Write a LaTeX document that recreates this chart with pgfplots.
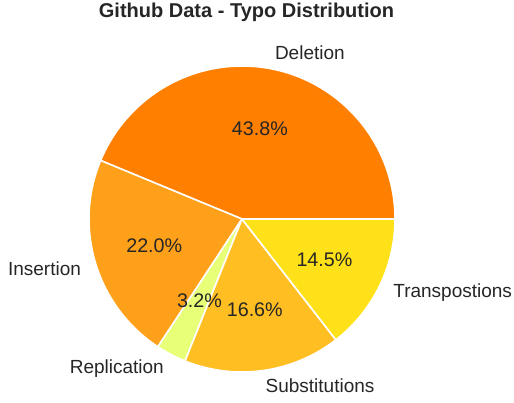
\documentclass[border=0pt]{standalone}
\usepackage{pgfplots}
\pgfplotsset{compat=1.18}
\usepackage{fontspec}
\setmainfont{Liberation Sans}
\usetikzlibrary{calc}
\definecolor{cDel}{HTML}{FF7F00}
\definecolor{cIns}{HTML}{FFA01A}
\definecolor{cRep}{HTML}{E8FF78}
\definecolor{cSub}{HTML}{FFBE22}
\definecolor{cTra}{HTML}{FFE11A}
\definecolor{txt}{HTML}{262626}
\begin{document}
\begin{tikzpicture}
\useasboundingbox (0,0) rectangle (514pt,402pt);
\begin{axis}[at={(0,0)},anchor=south west,width=514pt,height=402pt,scale only axis,xmin=0,xmax=514,ymin=0,ymax=402,hide axis,clip=false]
% percentages
\pgfmathsetmacro{\pDel}{43.8}
\pgfmathsetmacro{\pIns}{22.0}
\pgfmathsetmacro{\pRep}{3.2}
\pgfmathsetmacro{\pSub}{16.6}
\pgfmathsetmacro{\pTra}{14.5}
\pgfmathsetmacro{\f}{360/(\pDel+\pIns+\pRep+\pSub+\pTra)}
\pgfmathsetmacro{\aA}{\pDel*\f}
\pgfmathsetmacro{\aB}{\aA+\pIns*\f}
\pgfmathsetmacro{\aC}{\aB+\pRep*\f}
\pgfmathsetmacro{\aD}{\aC+\pSub*\f}
\pgfmathsetmacro{\mA}{\aA/2}
\pgfmathsetmacro{\mB}{(\aA+\aB)/2}
\pgfmathsetmacro{\mC}{(\aB+\aC)/2}
\pgfmathsetmacro{\mD}{(\aC+\aD)/2}
\pgfmathsetmacro{\mE}{(\aD+360)/2}
\coordinate (C) at (axis cs:242,183);
\def\R{153pt}
\tikzset{wedge/.style={draw=white,line width=1.6pt,line join=round}}
\filldraw[wedge,fill=cDel] (C) -- ++(0:\R) arc[start angle=0,end angle=\aA,radius=\R] -- cycle;
\filldraw[wedge,fill=cIns] (C) -- ++(\aA:\R) arc[start angle=\aA,end angle=\aB,radius=\R] -- cycle;
\filldraw[wedge,fill=cRep] (C) -- ++(\aB:\R) arc[start angle=\aB,end angle=\aC,radius=\R] -- cycle;
\filldraw[wedge,fill=cSub] (C) -- ++(\aC:\R) arc[start angle=\aC,end angle=\aD,radius=\R] -- cycle;
\filldraw[wedge,fill=cTra] (C) -- ++(\aD:\R) arc[start angle=\aD,end angle=360,radius=\R] -- cycle;
\tikzset{lab/.style={text=txt,font=\fontsize{19}{22}\selectfont,inner sep=0pt},
         pct/.style={text=txt,font=\fontsize{19.7}{22}\selectfont,inner sep=0pt}}
\node[pct] at ($(C)+(\mA:91.8pt)$) {43.8\%};
\node[pct] at ($(C)+(\mB:91.8pt)$) {22.0\%};
\node[pct] at ($(C)+(\mC:91.8pt)$) {3.2\%};
\node[pct] at ($(C)+(\mD:91.8pt)$) {16.6\%};
\node[pct] at ($(C)+(\mE:91.8pt)$) {14.5\%};
\node[lab,anchor=west] at ($(C)+(\mA:168.3pt)+(0,1.5pt)$) {Deletion};
\node[lab,anchor=east] at ($(C)+(\mB:168.3pt)$) {Insertion};
\node[lab,anchor=east] at ($(C)+(\mC:168.3pt)$) {Replication};
\node[lab,anchor=west] at ($(C)+(\mD:168.3pt)$) {Substitutions};
\node[lab,anchor=west] at ($(C)+(\mE:168.3pt)$) {Transpostions};
\node[text=txt,font=\bfseries\fontsize{20}{23}\selectfont,inner sep=0pt,anchor=base] at (axis cs:246.5,384) {Github Data - Typo Distribution};
\end{axis}
\end{tikzpicture}
\end{document}
